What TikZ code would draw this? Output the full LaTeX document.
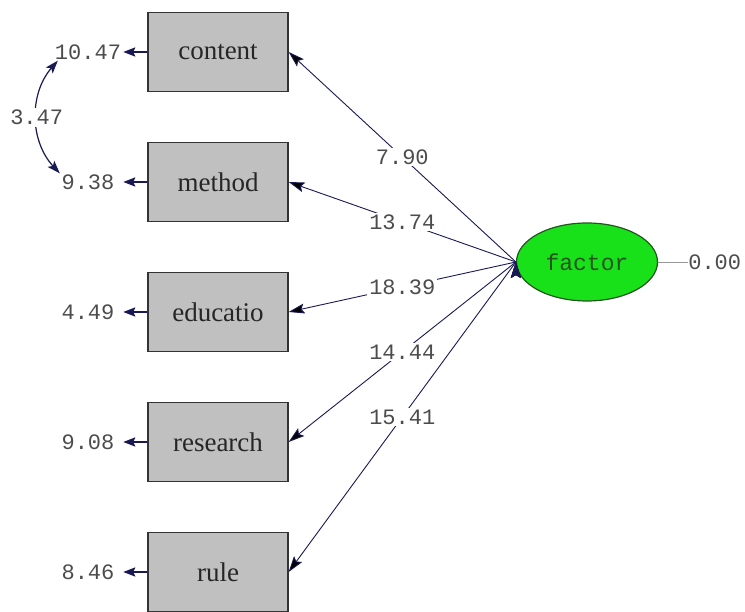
\documentclass[tikz,border=0pt]{standalone}
\usepackage{fontspec}
\setmainfont{Liberation Serif}
\newfontfamily\numfont{Liberation Mono}
\usetikzlibrary{shapes.geometric,arrows.meta,positioning}
\definecolor{navy}{RGB}{25,25,85}
\definecolor{boxgray}{RGB}{192,192,192}
\definecolor{ellgreen}{RGB}{25,225,25}
\definecolor{darkgreen}{RGB}{35,85,30}

\begin{document}
\begin{tikzpicture}[x=1pt,y=1pt,>={Stealth[length=16pt,width=10pt,inset=3pt]}]
\tikzstyle{var}=[rectangle,draw=black!80,fill=boxgray,line width=1.3pt,
minimum width=140pt,minimum height=79pt,inner sep=0pt,node distance=130pt,
font=\fontsize{27}{30}\selectfont,text=black!85]
\tikzstyle{err}=[minimum width=70pt,inner sep=0pt,node distance=130pt,
font=\numfont\fontsize{22}{24}\selectfont,text=black!70]
\tikzstyle{lab}=[fill=white,inner sep=2pt,font=\numfont\fontsize{22}{24}\selectfont,text=black!70]
\tikzstyle{load}=[draw=navy,line width=0.9pt]
\tikzstyle{errarrow}=[draw=navy,line width=2.2pt,>={Stealth[length=12pt,width=9pt,inset=2pt]}]
\useasboundingbox (0,0) rectangle (745,612);

\node[var] at (218,560) (content) {content};
\node[var,below of =content] (method) {method};
\node[var,below of =method] (educatio) {educatio};
\node[var,below of =educatio] (research) {research};
\node[var,below of =research] (rule) {rule};

\node[err,left of =content] (e1) {10.47};
\node[err,left of =method] (e2) {9.38};
\node[err,left of =educatio] (e3) {4.49};
\node[err,left of =research] (e4) {9.08};
\node[err,left of =rule] (e5) {8.46};

\node[ellipse,draw=darkgreen,fill=ellgreen,line width=1.2pt,minimum width=141pt,
minimum height=78pt,font=\numfont\fontsize{23}{25}\selectfont,text=darkgreen]
at (587,350) (factor) {factor};
\node[lab,right=30pt of factor,inner sep=0pt] (zero) {0.00};

\path[->,load] (factor.west) edge node[lab] {7.90} (content.east);
\path[->,load] (factor.west) edge node[lab] {13.74} (method.east);
\path[->,load] (factor.west) edge node[lab] {18.39} (educatio.east);
\path[->,load] (factor.west) edge node[lab] {14.44} (research.east);
\path[->,load] (factor.west) edge node[lab] {15.41} (rule.east);
\draw[black!40,line width=0.8pt] (factor.east) -- (zero.west);

\path[->,errarrow] (content) edge (e1);
\path[->,errarrow] (method) edge (e2);
\path[->,errarrow] (educatio) edge (e3);
\path[->,errarrow] (research) edge (e4);
\path[->,errarrow] (rule) edge (e5);

\draw[<->,load,line width=1.2pt,>={Stealth[length=13pt,width=9pt,inset=3pt]}]
([xshift=5pt,yshift=-1pt]e1.south west) to[bend right=42]
node[lab] {3.47} ([xshift=7pt,yshift=1pt]e2.north west);

\end{tikzpicture}
\end{document}
